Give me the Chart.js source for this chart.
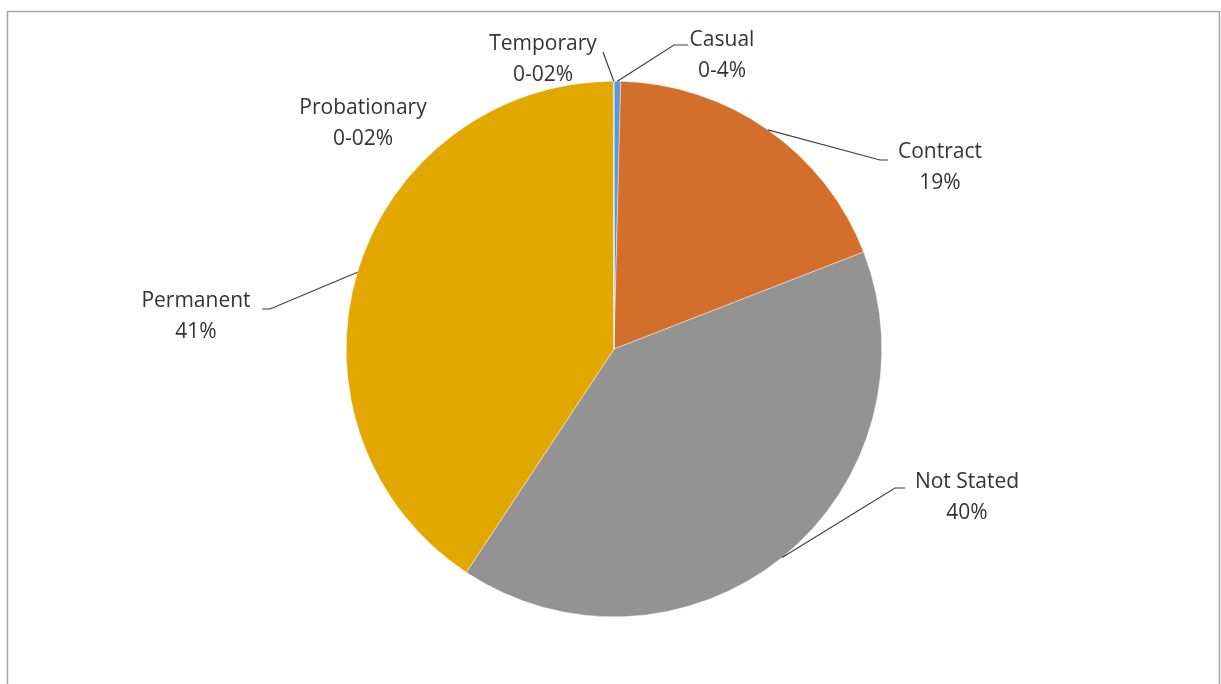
<!DOCTYPE html>
<html>
<head>
<meta charset="utf-8">
<script src="https://cdn.jsdelivr.net/npm/chart.js@4"></script>
<style>
  html, body { margin: 0; padding: 0; background: #ffffff; }
  #wrap { position: relative; width: 1221px; height: 684px; }
</style>
</head>
<body>
<div id="wrap"><canvas id="c" width="1221" height="684"></canvas></div>
<script>
// ---- data ----
const categories = ["Casual", "Contract", "Not Stated", "Permanent", "Probationary", "Temporary"];
const values = [0.4, 18.7, 40.2, 40.66, 0.02, 0.02];
const valueLabels = ["0-4%", "19%", "40%", "41%", "0-02%", "0-02%"];
const colors = ["#5B9BD5", "#D46F2B", "#939393", "#E2A800", "#E2A800", "#4472C4"];

// ---- label layout (text centre + leader elbow) ----
const labelLayout = [
  { x: 722, y: 40, elbow: [[674, 45], [688, 45]] },          // Casual
  { x: 940, y: 152, elbow: [[880, 160], [888, 160]] },        // Contract
  { x: 967, y: 482, elbow: [[895, 488], [905, 488]] },        // Not Stated
  { x: 196, y: 301, elbow: [[270, 309], [262, 309]] },        // Permanent
  { x: 363, y: 108, elbow: null },                            // Probationary
  { x: 543, y: 44, elbow: [[603, 52]] }                       // Temporary
];

const FONT = '21px "Open Sans"';
const LINE_H = 31;

const framePlugin = {
  id: 'frame',
  beforeDraw(chart) {
    const ctx = chart.ctx;
    ctx.save();
    ctx.strokeStyle = '#a6a6a6';
    ctx.lineWidth = 1.5;
    ctx.strokeRect(7.5, 11.5, 1212, 690);
    ctx.restore();
  }
};

const labelPlugin = {
  id: 'pieLabels',
  afterDraw(chart) {
    const ctx = chart.ctx;
    const meta = chart.getDatasetMeta(0);
    ctx.save();
    meta.data.forEach((arc, i) => {
      const L = labelLayout[i];
      const mid = (arc.startAngle + arc.endAngle) / 2;
      const ax = arc.x + Math.cos(mid) * arc.outerRadius;
      const ay = arc.y + Math.sin(mid) * arc.outerRadius;
      if (L.elbow) {
        ctx.strokeStyle = '#404040';
        ctx.lineWidth = 1.2;
        ctx.beginPath();
        ctx.moveTo(ax, ay);
        L.elbow.forEach(p => ctx.lineTo(p[0], p[1]));
        ctx.stroke();
      }
      ctx.fillStyle = '#333333';
      ctx.font = FONT;
      ctx.textAlign = 'center';
      ctx.textBaseline = 'middle';
      ctx.fillText(categories[i], L.x, L.y);
      ctx.fillText(valueLabels[i], L.x, L.y + LINE_H);
    });
    ctx.restore();
  }
};

new Chart(document.getElementById('c'), {
  type: 'pie',
  data: {
    labels: categories,
    datasets: [{
      data: values,
      backgroundColor: colors,
      borderColor: '#ffffff',
      borderWidth: 0.4
    }]
  },
  options: {
    responsive: false,
    animation: false,
    layout: { padding: { left: 346, right: 339, top: 81, bottom: 67 } },
    plugins: {
      legend: { display: false },
      tooltip: { enabled: false }
    }
  },
  plugins: [framePlugin, labelPlugin]
});
</script>
</body>
</html>
